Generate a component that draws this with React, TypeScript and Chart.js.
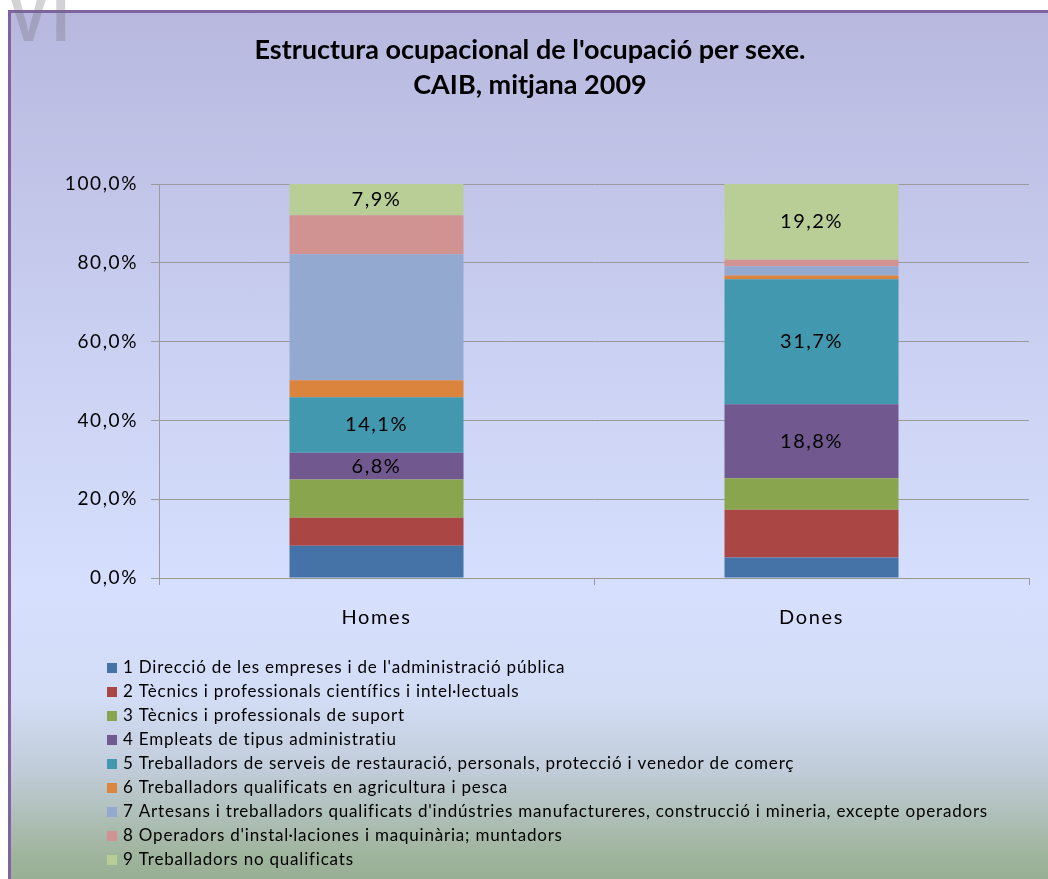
import React, { useEffect, useRef } from "react";
import { Chart, registerables } from "chart.js";

Chart.register(...registerables);

const categories = ["Homes", "Dones"];
const seriesNames = [
  "1 Direcció de les empreses i de l'administració pública",
  "2 Tècnics i professionals científics i intel·lectuals",
  "3 Tècnics i professionals de suport",
  "4 Empleats de tipus administratiu",
  "5 Treballadors de serveis de restauració, personals, protecció i venedor de comerç",
  "6 Treballadors qualificats en agricultura i pesca",
  "7 Artesans i treballadors qualificats d'indústries manufactureres, construcció i mineria, excepte operadors",
  "8 Operadors d'instal·laciones i maquinària; muntadors",
  "9 Treballadors no qualificats",
];
const homesValues = [8.2, 7.1, 9.7, 6.8, 14.1, 4.3, 32.0, 9.9, 7.9];
const donesValues = [5.2, 12.1, 8.0, 18.8, 31.7, 1.0, 2.3, 1.7, 19.2];
const seriesColors = [
  "#4572A7",
  "#AA4643",
  "#89A54E",
  "#71588F",
  "#4198AF",
  "#DB843D",
  "#93A9CF",
  "#D19392",
  "#B9CD96",
];
const labelledSeries = [3, 4, 8];
const titleLines = ["Estructura ocupacional de l'ocupació per sexe.", "CAIB, mitjana 2009"];

const FONT = "Lato, 'Noto Sans', sans-serif";

const fmt = (v: number) => v.toFixed(1).replace(".", ",") + "%";

const decorPlugin = {
  id: "decor",
  beforeDraw(chart: any) {
    (chart.ctx as any).letterSpacing = "1.6px";
  },
  afterDraw(chart: any) {
    const ctx = chart.ctx as CanvasRenderingContext2D;
    // title
    ctx.save();
    (ctx as any).letterSpacing = "0px";
    ctx.fillStyle = "#000";
    ctx.font = `bold 27px ${FONT}`;
    ctx.textAlign = "center";
    ctx.textBaseline = "middle";
    titleLines.forEach((t, i) => ctx.fillText(t, 530, 50 + i * 35));
    ctx.restore();

    // data labels
    ctx.save();
    ctx.fillStyle = "#000";
    ctx.font = `20px ${FONT}`;
    (ctx as any).letterSpacing = "1.5px";
    ctx.textAlign = "center";
    ctx.textBaseline = "middle";
    labelledSeries.forEach((di) => {
      const meta = chart.getDatasetMeta(di);
      meta.data.forEach((el: any, i: number) => {
        const v = chart.data.datasets[di].data[i] as number;
        ctx.fillText(fmt(v), el.x, (el.y + el.base) / 2);
      });
    });
    ctx.restore();

    // legend
    ctx.save();
    ctx.font = `17px ${FONT}`;
    (ctx as any).letterSpacing = "0.8px";
    ctx.textAlign = "left";
    ctx.textBaseline = "middle";
    chart.data.datasets.forEach((ds: any, i: number) => {
      const y = 668 + i * 24;
      ctx.fillStyle = ds.backgroundColor;
      ctx.fillRect(107, y - 5, 10, 10);
      ctx.fillStyle = "#000";
      ctx.fillText(ds.label, 123, y);
    });
    ctx.restore();
  },
};

export default function App() {
  const ref = useRef<HTMLCanvasElement | null>(null);
  useEffect(() => {
    if (!ref.current) return;
    const chart = new Chart(ref.current, {
      type: "bar",
      data: {
        labels: categories,
        datasets: seriesNames.map((name, i) => ({
          label: name,
          data: [homesValues[i], donesValues[i]],
          backgroundColor: seriesColors[i],
          borderWidth: 0,
          barPercentage: 0.4,
          categoryPercentage: 1,
        })),
      },
      options: {
        responsive: false,
        animation: false,
        devicePixelRatio: 1,
        layout: { padding: { left: 0, top: 184, right: 19, bottom: 0 } },
        plugins: {
          legend: { display: false },
          title: { display: false },
          tooltip: { enabled: false },
        },
        scales: {
          x: {
            stacked: true,
            afterFit(scale: any) {
              scale.height = 301;
            },
            grid: {
              display: true,
              offset: true,
              drawOnChartArea: false,
              drawTicks: true,
              tickLength: 7,
              color: "#9a9a9a",
            },
            border: { display: true, color: "#9a9a9a", width: 1 },
            ticks: {
              color: "#000",
              font: { family: FONT, size: 20 },
              padding: 21,
            },
          },
          y: {
            stacked: true,
            min: 0,
            max: 100,
            afterFit(scale: any) {
              scale.width = 159;
            },
            grid: {
              color: "#9a9a9a",
              lineWidth: 1,
              drawTicks: true,
              tickLength: 8,
            },
            border: { display: true, color: "#9a9a9a", width: 1 },
            ticks: {
              stepSize: 20,
              color: "#000",
              font: { family: FONT, size: 19 },
              padding: 13,
              callback: (v: any) => fmt(Number(v)),
            },
          },
        },
      },
      plugins: [decorPlugin],
    });
    return () => chart.destroy();
  }, []);

  return (
    <div style={{ position: "absolute", left: 0, top: 0, width: 1048, height: 879, overflow: "hidden", background: "#fff" }}>
      <div
        style={{
          position: "absolute",
          left: 8,
          top: 10,
          width: 1060,
          height: 900,
          borderLeft: "3px solid #8064a2",
          borderTop: "3px solid #8064a2",
          boxSizing: "border-box",
          background:
            "linear-gradient(to bottom, #b8b8de 0%, #c9cff0 35%, #d6dffd 64%, #d3ddf6 76%, #c2cddb 84%, #9fb49c 94%, #8ea68a 100%)",
        }}
      />
      <div
        style={{
          position: "absolute",
          left: 8,
          top: -20,
          fontFamily: "'Liberation Sans', sans-serif",
          fontWeight: "bold",
          fontSize: 72,
          lineHeight: "72px",
          color: "rgba(110,110,120,0.3)",
          transform: "scaleX(0.85)",
          transformOrigin: "left top",
          letterSpacing: 4,
        }}
      >
        VI
      </div>
      <canvas ref={ref} width={1048} height={879} style={{ position: "absolute", left: 0, top: 0 }} />
    </div>
  );
}
